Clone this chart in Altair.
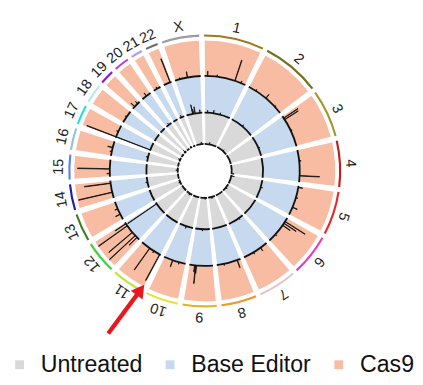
import math
import altair as alt
import pandas as pd

# ---------------- data ----------------
chroms = ["1", "2", "3", "4", "5", "6", "7", "8", "9", "10", "11", "12",
          "13", "14", "15", "16", "17", "18", "19", "20", "21", "22", "X"]
chrom_mb = [249.25, 243.2, 198.0, 191.2, 180.9, 171.1, 159.1, 146.4, 141.2,
            135.5, 135.0, 133.9, 115.2, 107.3, 102.5, 90.4, 81.2, 78.1, 59.1,
            63.0, 48.1, 51.3, 155.3]
chrom_colors = ["#9c7a1c", "#75701c", "#9c9a2e", "#c41c1c", "#e8262a", "#e03ec8",
                "#e6c4cc", "#e89a2c", "#e0b42a", "#e6e23a", "#c4e23a", "#3cd23c",
                "#3d7f1e", "#1e1eaa", "#5a86e0", "#98bee8", "#22dede", "#bfe6e6",
                "#8a1ec4", "#b63ee6", "#b69ae6", "#6c6c6c", "#9c9c9c"]

tracks = ["Untreated", "Base Editor", "Cas9"]
track_colors = ["#d9d9d9", "#c6d9ef", "#f8bca3"]

# spikes: chromosome, relative position along chromosome, signal (1 = ring height)
cas9_chrom = ["1", "1", "1", "1", "2", "2", "2", "3", "3", "3", "4", "4",
              "5", "5", "5", "6", "6", "6", "6", "7", "7", "8", "8",
              "9", "9", "9", "10", "10", "11", "11", "11",
              "12", "12", "12", "12", "12", "13", "13", "14", "14",
              "15", "15", "16", "16", "17", "18", "19", "19", "20", "21",
              "22", "X", "X"]
cas9_pos = [0.08, 0.30, 0.73, 0.88, 0.20, 0.50, 0.80, 0.08, 0.13, 0.50, 0.35, 0.80,
            0.06, 0.40, 0.73, 0.15, 0.22, 0.30, 0.70, 0.29, 0.60, 0.15, 0.70,
            0.70, 0.73, 0.77, 0.30, 0.59, 0.06, 0.35, 0.57,
            0.15, 0.26, 0.45, 0.81, 0.92, 0.30, 0.60, 0.34, 0.84,
            0.46, 0.20, 0.57, 0.30, 0.50, 0.50, 0.30, 0.70, 0.50, 0.50,
            0.82, 0.49, 0.20]
cas9_val = [0.13, 0.05, 0.60, 0.06, 0.04, 0.13, 0.04, 0.47, 0.44, 0.04, 0.05, 0.55,
            0.12, 0.05, 0.14, 0.65, 0.40, 0.25, 0.05, 0.10, 0.05, 0.22, 0.04,
            0.22, 0.50, 0.18, 0.05, 0.19, 0.81, 0.05, 0.73,
            0.30, 0.97, 0.85, 0.97, 0.35, 0.14, 0.08, 0.95, 0.73,
            0.89, 0.08, 0.14, 0.05, 0.05, 0.04, 0.14, 0.08, 0.10, 0.05,
            0.70, 0.16, 0.04]

be_chrom = ["17", "12", "X", "X", "X", "X", "1", "1", "1", "2", "3", "5",
            "7", "9", "10", "14", "16", "20", "22"]
be_pos = [0.09, 0.88, 0.40, 0.45, 0.55, 0.85, 0.12, 0.35, 0.60, 0.50, 0.60, 0.40,
          0.30, 0.50, 0.50, 0.50, 0.50, 0.50, 0.40]
be_val = [1.85, 0.95, 0.25, 0.12, 0.18, 0.08, 0.06, 0.08, 0.05, 0.05, 0.04, 0.05,
          0.04, 0.05, 0.06, 0.05, 0.05, 0.05, 0.06]

un_chrom = ["1", "2", "4", "5", "6", "8", "9", "11", "13", "15", "17", "19", "21", "X"]
un_pos = [0.40, 0.60, 0.95, 0.10, 0.50, 0.50, 0.30, 0.40, 0.50, 0.50, 0.50, 0.50, 0.50, 0.70]
un_val = [0.06, 0.05, 0.08, 0.10, 0.05, 0.05, 0.05, 0.06, 0.05, 0.06, 0.06, 0.08, 0.05, 0.06]

# annotation arrow (polar: angle in degrees clockwise from top, radius)
arrow_theta = [210.7, 208.1]   # tail, tip
arrow_r = [196.0, 136.0]

# ---------------- layout ----------------
W, H = 408, 324
GAP = 2.0
OFFSET = -1.3
RING = {"Untreated": (28.0, 60.5), "Base Editor": (60.5, 98.5), "Cas9": (98.5, 136.0)}
BAND = (139.3, 141.5)
LABEL_R = 152.0
FONT = "Liberation Sans"

total = sum(chrom_mb)
usable = 360.0 - GAP * len(chroms)
starts, ends = [], []
acc = 0.0
for i, mb in enumerate(chrom_mb):
    s = OFFSET + GAP / 2 + i * GAP + acc / total * usable
    e = s + mb / total * usable
    starts.append(s)
    ends.append(e)
    acc += mb
cdf = pd.DataFrame({"chrom": chroms, "t0": starts, "t1": ends})
cdf["mid"] = (cdf.t0 + cdf.t1) / 2
cdf["lr"] = LABEL_R
cdf["r0"] = BAND[0]
cdf["r1"] = BAND[1]
cstart = dict(zip(chroms, starts))
cspan = dict(zip(chroms, [e - s for s, e in zip(starts, ends)]))

ring_rows, base_rows = [], []
for c, s, e in zip(chroms, starts, ends):
    for t in tracks:
        r0, r1 = RING[t]
        ring_rows.append({"chrom": c, "track": t, "t0": s, "t1": e, "r0": r0, "r1": r1})
        base_rows.append({"chrom": c, "track": t, "t0": s + 0.15, "t1": e - 0.15,
                          "r0": r0 - 0.95, "r1": r0 + 0.95})
ring_df = pd.DataFrame(ring_rows)
base_df = pd.DataFrame(base_rows)

sp_rows = []
for tname, chs, ps, vs in [("Untreated", un_chrom, un_pos, un_val),
                           ("Base Editor", be_chrom, be_pos, be_val),
                           ("Cas9", cas9_chrom, cas9_pos, cas9_val)]:
    r0, r1 = RING[tname]
    for c, p, v in zip(chs, ps, vs):
        th = cstart[c] + p * cspan[c]
        sp_rows.append({"track": tname, "t0": th - 0.13, "t1": th + 0.13,
                        "r0": r0, "r1": r0 + v * (r1 - r0)})
sp_df = pd.DataFrame(sp_rows)

# arrow in cartesian (y up) derived from polar annotation
def pol(r, th):
    a = math.radians(th)
    return r * math.sin(a), r * math.cos(a)

xt, yt = pol(arrow_r[0], arrow_theta[0])
xp, yp = pol(arrow_r[1], arrow_theta[1])
L = math.hypot(xp - xt, yp - yt)
ux, uy = (xp - xt) / L, (yp - yt) / L
ang = math.degrees(math.atan2(xp - xt, yp - yt))
shaft_df = pd.DataFrame({"x1": [xt], "y1": [yt], "x2": [xp - ux * 9], "y2": [yp - uy * 9]})
head_df = pd.DataFrame({"x": [xp - ux * 6.5], "y": [yp - uy * 6.5], "ang": [ang]})

# ---------------- chart ----------------
TH = alt.Scale(domain=[0, 360], range=[0, 2 * math.pi])
RS = alt.Scale(type="linear", domain=[0, 200], range=[0, 200], zero=True)
XS = alt.Scale(domain=[-W / 2, W / 2], nice=False, zero=False)
YS = alt.Scale(domain=[-H / 2, H / 2], nice=False, zero=False)


def arcs(df, **mark):
    return alt.Chart(df).mark_arc(**mark).encode(
        theta=alt.Theta("t0:Q", scale=TH, stack=False),
        theta2="t1:Q",
        radius=alt.Radius("r0:Q", scale=RS),
        radius2="r1:Q",
    )


rings = arcs(ring_df, stroke="white", strokeWidth=1.4).encode(
    color=alt.Color("track:N", scale=alt.Scale(domain=tracks, range=track_colors),
                    legend=alt.Legend(orient="bottom", direction="horizontal", title=None,
                                      symbolType="square", symbolSize=85,
                                      symbolStrokeWidth=0, labelFontSize=24,
                                      labelFont=FONT, labelColor="#111111",
                                      labelOffset=10, columnPadding=16, offset=27))
)
baselines = arcs(base_df, color="#111111")
spikes = arcs(sp_df, color="#111111", stroke="#111111", strokeWidth=0.8)
band = arcs(cdf).encode(
    color=alt.Color("chrom:N", scale=alt.Scale(domain=chroms, range=chrom_colors), legend=None)
)
labels = alt.Chart(cdf).mark_text(font=FONT, fontSize=15, color="#222222",
                                  align="center", baseline="middle").encode(
    theta=alt.Theta("mid:Q", scale=TH, stack=False),
    radius=alt.Radius("lr:Q", scale=RS),
    text="chrom:N",
    angle=alt.Angle("mid:Q", scale=None),
)
shaft = alt.Chart(shaft_df).mark_rule(color="#e8191c", strokeWidth=4.5).encode(
    x=alt.X("x1:Q", scale=XS, axis=None),
    y=alt.Y("y1:Q", scale=YS, axis=None),
    x2="x2:Q",
    y2="y2:Q",
)
head = alt.Chart(head_df).mark_point(shape="triangle", filled=True, size=230,
                                     color="#e8191c", opacity=1).encode(
    x=alt.X("x:Q", scale=XS, axis=None),
    y=alt.Y("y:Q", scale=YS, axis=None),
    angle=alt.Angle("ang:Q", scale=None),
)

chart = alt.layer(rings, baselines, spikes, band, labels, shaft, head).resolve_scale(
    color="independent"
).properties(width=W, height=H, padding=0).configure_view(strokeWidth=0)

chart.save("out.html", embed_options={"renderer": "svg", "actions": False})
